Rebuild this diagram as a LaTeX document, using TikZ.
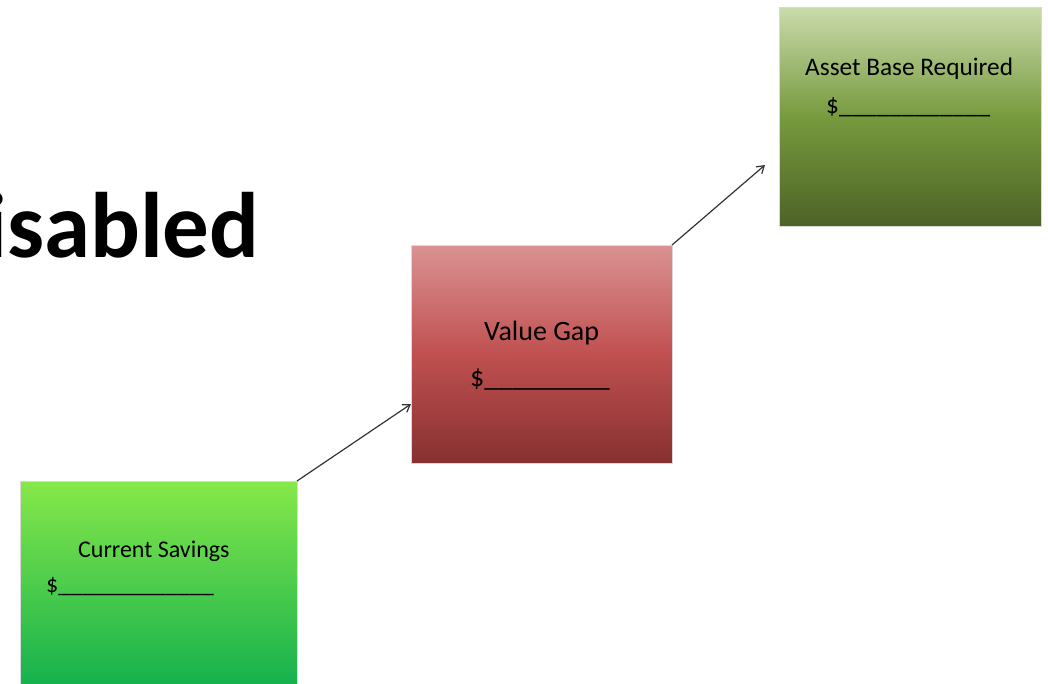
\documentclass[tikz,border=0pt]{standalone}
\usepackage{fontspec}
\setmainfont{Carlito}
\usetikzlibrary{arrows.meta}
\definecolor{gtop}{HTML}{86E84A}
\definecolor{gbot}{HTML}{0FAE4E}
\definecolor{rtop}{HTML}{DA9292}
\definecolor{rmid}{HTML}{C05050}
\definecolor{rbot}{HTML}{873030}
\definecolor{otop}{HTML}{CADBAC}
\definecolor{omid}{HTML}{779A3E}
\definecolor{obot}{HTML}{4D6227}
\tikzset{
  box/.style={draw=white!85!black, line width=0.5pt, inner sep=0pt, anchor=north west},
  lbl/.style={inner sep=0pt, anchor=base west, text=black},
  conn/.style={draw=black!80, line width=1.2pt, -{Straight Barb[length=7pt,width=9pt]}},
}
\begin{document}
\begin{tikzpicture}[x=1pt,y=-1pt]
\useasboundingbox (0,0) rectangle (1048,683);
\begin{scope}
\clip (0,0) rectangle (1048,683);
\node[box, minimum width=277pt, minimum height=215pt, top color=gtop, bottom color=gbot] (cs) at (20,481) {};
\node[box, minimum width=261pt, minimum height=218pt, shading=axis, top color=rtop, bottom color=rbot, middle color=rmid] (vg) at (411,245) {};
\node[box, minimum width=262pt, minimum height=219pt, shading=axis, top color=otop, bottom color=obot, middle color=omid] (ab) at (779,7) {};
\node[lbl, font=\bfseries\fontsize{93}{93}\selectfont] (title) at (-16,257) {isabled};
\end{scope}
\coordinate (cstr) at (297,481);
\coordinate (vgl) at (411,404);
\coordinate (vgtr) at (672,245);
\coordinate (abl) at (765,165);
\draw[conn] (cstr) -- (vgl);
\draw[conn] (vgtr) -- (abl);
\node[lbl, font=\fontsize{24}{24}\selectfont] (t1) at (78,557) {Current Savings};
\node[lbl, font=\fontsize{24}{24}\selectfont] (d1) at (46,592) {\$\_\_\_\_\_\_\_\_\_\_\_\_\_};
\node[lbl, font=\fontsize{28}{28}\selectfont] (t2) at (484,340) {Value Gap};
\node[lbl, font=\fontsize{28}{28}\selectfont] (d2) at (470,386) {\$\_\_\_\_\_\_\_\_\_};
\node[lbl, font=\fontsize{25.3}{25.3}\selectfont] (t3) at (805,75) {Asset Base Required};
\node[lbl, font=\fontsize{25.3}{25.3}\selectfont] (d3) at (826,113) {\$\_\_\_\_\_\_\_\_\_\_\_\_};
\end{tikzpicture}
\end{document}
